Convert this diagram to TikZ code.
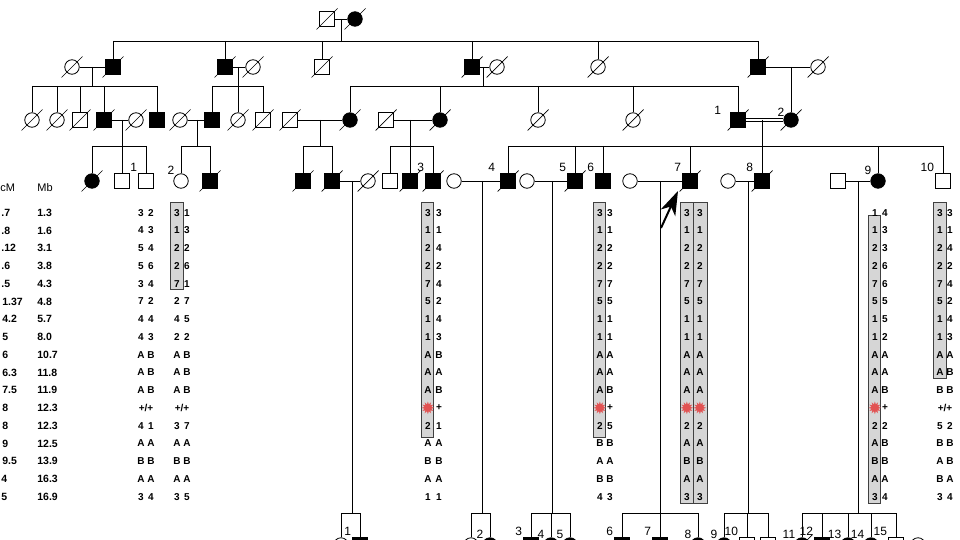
\documentclass[tikz,border=0pt]{standalone}
\usepackage{fontspec}
\setmainfont{Liberation Sans}
\newfontfamily\symfont{DejaVu Sans}
\usetikzlibrary{arrows.meta}
\definecolor{mkred}{RGB}{226,82,82}
\newcommand{\mk}{{\symfont\fontsize{17}{17}\selectfont\textcolor{mkred}{✹}}}

\begin{document}
\begin{tikzpicture}[x=1pt, y=-1pt, line width=0.8pt,
    male/.style={draw, fill=white, line width=0.8pt, minimum size=14.5pt, inner sep=0pt},
    female/.style={male, circle},
    aff/.style={fill=black},
    lbl/.style={font=\fontsize{12}{13}\selectfont, inner sep=1pt},
    allele/.style={font=\bfseries\fontsize{10}{11}\selectfont, inner sep=0pt},
    tab/.style={font=\bfseries\fontsize{10.5}{12}\selectfont, inner sep=0pt, anchor=west},
    hap/.style={draw=black!75, fill=black!16, line width=0.8pt},
    slash/.style={line width=0.7pt},
    proband/.style={-{Stealth[length=24pt, width=16pt, inset=7pt]}, line width=2pt},
]
    \clip (0,0) rectangle (960,540);

    % generation I
    \node[male] (i1) at (327,19) {};
    \node[female,aff] (i2) at (355,19) {};
    \draw (i1) -- (i2);
    \coordinate (m1) at (341,19);
    \coordinate (s1) at (341,41);
    \draw (m1) -- (s1);

    % generation II
    \node[female] (ii1) at (72,67) {};
    \node[male,aff] (ii2) at (113,67) {};
    \node[male,aff] (ii3) at (225,67) {};
    \node[female] (ii4) at (253,67) {};
    \node[male] (ii5) at (322,67) {};
    \node[male,aff] (ii6) at (472,67) {};
    \node[female] (ii7) at (497,67) {};
    \node[female] (ii8) at (598,67) {};
    \node[male,aff] (ii9) at (758,67) {};
    \node[female] (ii10) at (818,67) {};
    \draw (ii2 |- s1) -- (ii9 |- s1);
    \foreach \n in {ii2,ii3,ii5,ii6,ii8,ii9}
        \draw (\n |- s1) -- (\n);
    \foreach \a/\b in {ii1/ii2,ii3/ii4,ii6/ii7,ii9/ii10}
        \draw (\a) -- (\b);
    \coordinate (m21) at (92,67);  \coordinate (s21) at (92,86);
    \coordinate (m22) at (238,67); \coordinate (s22) at (238,86);
    \coordinate (m23) at (483,67); \coordinate (s23) at (483,86);
    \coordinate (m24) at (791,67);
    \draw (m21) -- (s21);
    \draw (m22) -- (s22);
    \draw (m23) -- (s23);

    % generation III
    \node[female] (iii1) at (32,120) {};
    \node[female] (iii2) at (57,120) {};
    \node[male] (iii3) at (80,120) {};
    \node[male,aff] (iii4) at (104,120) {};
    \node[female] (iii5) at (136,120) {};
    \node[male,aff] (iii6) at (157,120) {};
    \node[female] (iii7) at (180,120) {};
    \node[male,aff] (iii8) at (212,120) {};
    \node[female] (iii9) at (238,120) {};
    \node[male] (iii10) at (263,120) {};
    \node[male] (iii11) at (290,120) {};
    \node[female,aff] (iii12) at (350,120) {};
    \node[male] (iii13) at (386,120) {};
    \node[female,aff] (iii14) at (440,120) {};
    \node[female] (iii15) at (538,120) {};
    \node[female] (iii16) at (633,120) {};
    \node[male,aff,label={[lbl,xshift=-8pt,yshift=-4pt]above left:1}] (iii17) at (738,120) {};
    \node[female,aff,label={[lbl,yshift=-3pt]above left:2}] (iii18) at (791,120) {};
    \draw (iii1 |- s21) -- (iii6 |- s21);
    \foreach \n in {iii1,iii2,iii3,iii4,iii6}
        \draw (\n |- s21) -- (\n);
    \draw (iii8 |- s22) -- (iii10 |- s22);
    \foreach \n in {iii8,iii9,iii10}
        \draw (\n |- s22) -- (\n);
    \draw (iii12 |- s23) -- (iii17 |- s23);
    \foreach \n in {iii12,iii14,iii15,iii16,iii17}
        \draw (\n |- s23) -- (\n);
    \draw (m24) -- (iii18);
    \foreach \a/\b in {iii4/iii5,iii7/iii8,iii11/iii12,iii13/iii14}
        \draw (\a) -- (\b);
    \draw[double, double distance=2pt, line width=0.7pt] (iii17) -- (iii18);
    \coordinate (m31) at (122,120); \coordinate (s31) at (122,146);
    \coordinate (m32) at (197,120); \coordinate (s32) at (197,146);
    \coordinate (m33) at (320,120); \coordinate (s33) at (320,146);
    \coordinate (m34) at (410,120); \coordinate (s34) at (410,146);
    \coordinate (m35) at (762,120); \coordinate (s35) at (762,146);
    \foreach \n in {31,32,33,34,35}
        \draw (m\n) -- (s\n);

    % generation IV
    \node[female,aff] (iv1) at (92,181) {};
    \node[male] (iv2) at (122,181) {};
    \node[male,label={[lbl]above left:1}] (iv3) at (146,181) {};
    \node[female,label={[lbl]above left:2}] (iv4) at (181,181) {};
    \node[male,aff] (iv5) at (210,181) {};
    \node[male,aff] (iv6) at (303,181) {};
    \node[male,aff] (iv7) at (332,181) {};
    \node[female] (iv8) at (368,181) {};
    \node[male] (iv9) at (390,181) {};
    \node[male,aff] (iv10) at (410,181) {};
    \node[male,aff,label={[lbl]above left:3}] (iv11) at (433,181) {};
    \node[female] (iv12) at (454,181) {};
    \node[male,aff,label={[lbl,xshift=-4pt]above left:4}] (iv13) at (508,181) {};
    \node[female] (iv14) at (527,181) {};
    \node[male,aff,label={[lbl]above left:5}] (iv15) at (575,181) {};
    \node[male,aff,label={[lbl]above left:6}] (iv16) at (603,181) {};
    \node[female] (iv17) at (630,181) {};
    \node[male,aff,label={[lbl]above left:7}] (iv18) at (690,181) {};
    \node[female] (iv19) at (728,181) {};
    \node[male,aff,label={[lbl]above left:8}] (iv20) at (762,181) {};
    \node[male] (iv21) at (838,181) {};
    \node[female,aff,label={[lbl]above left:9}] (iv22) at (878,181) {};
    \node[male,label={[lbl]above left:10}] (iv23) at (943,181) {};
    \draw (iv1 |- s31) -- (iv3 |- s31);
    \foreach \n in {iv1,iv2,iv3}
        \draw (\n |- s31) -- (\n);
    \draw (iv4 |- s32) -- (iv5 |- s32);
    \foreach \n in {iv4,iv5}
        \draw (\n |- s32) -- (\n);
    \draw (iv6 |- s33) -- (iv7 |- s33);
    \foreach \n in {iv6,iv7}
        \draw (\n |- s33) -- (\n);
    \draw (iv9 |- s34) -- (iv11 |- s34);
    \foreach \n in {iv9,iv10,iv11}
        \draw (\n |- s34) -- (\n);
    \draw (iv13 |- s35) -- (iv23 |- s35);
    \foreach \n in {iv13,iv15,iv16,iv18,iv20,iv22,iv23}
        \draw (\n |- s35) -- (\n);
    \foreach \a/\b in {iv7/iv8,iv12/iv13,iv14/iv15,iv17/iv18,iv19/iv20,iv21/iv22}
        \draw (\a) -- (\b);
    \coordinate (m41) at (352,181); \coordinate (s41) at (352,513);
    \coordinate (m42) at (482,181); \coordinate (s42) at (482,513);
    \coordinate (m43) at (552,181); \coordinate (s43) at (552,513);
    \coordinate (m44) at (660,181); \coordinate (s44) at (660,513);
    \coordinate (m45) at (748,181); \coordinate (s45) at (748,513);
    \coordinate (m46) at (858,181); \coordinate (s46) at (858,513);
    \foreach \n in {41,42,43,44,45,46}
        \draw (m\n) -- (s\n);

    % generation V (cut at the bottom edge)
    \node[female] (v1) at (341,545) {};
    \node[male,aff,label={[lbl]above left:1}] (v2) at (360,545) {};
    \node[female] (v3) at (471,545) {};
    \node[female,aff,label={[lbl]above left:2}] (v4) at (490,545) {};
    \node[male,aff,label={[lbl]above left:3}] (v5) at (531,545) {};
    \node[female,aff,label={[lbl]above left:4}] (v6) at (551,545) {};
    \node[female,aff,label={[lbl]above left:5}] (v7) at (570,545) {};
    \node[male,aff,label={[lbl]above left:6}] (v8) at (622,545) {};
    \node[male,aff,label={[lbl]above left:7}] (v9) at (660,545) {};
    \node[female,aff,label={[lbl]above left:8}] (v10) at (698,545) {};
    \node[female,aff,label={[lbl]above left:9}] (v11) at (724,545) {};
    \node[male,label={[lbl]above left:10}] (v12) at (747,545) {};
    \node[male] (v13) at (768,545) {};
    \node[female,aff,label={[lbl]above left:11}] (v14) at (802,545) {};
    \node[male,aff,label={[lbl]above left:12}] (v15) at (822,545) {};
    \node[female,aff,label={[lbl]above left:13}] (v16) at (848,545) {};
    \node[female,aff,label={[lbl]above left:14}] (v17) at (871,545) {};
    \node[male,label={[lbl]above left:15}] (v18) at (896,545) {};
    \node[female] (v19) at (918,545) {};
    \draw (v1 |- s41) -- (v2 |- s41);
    \draw (v3 |- s42) -- (v4 |- s42);
    \draw (v5 |- s43) -- (v7 |- s43);
    \draw (v8 |- s44) -- (v10 |- s44);
    \draw (v11 |- s45) -- (v13 |- s45);
    \draw (v14 |- s46) -- (v18 |- s46);
    \foreach \n/\s in {v1/41,v2/41,v3/42,v4/42,v5/43,v6/43,v7/43,v8/44,v9/44,v10/44,
                       v11/45,v12/45,v13/45,v14/46,v15/46,v16/46,v17/46,v18/46}
        \draw (\n |- s\s) -- (\n);

    % deceased
    \foreach \n in {i1,i2,ii1,ii2,ii3,ii4,ii5,ii6,ii7,ii8,ii9,ii10,
                    iii1,iii2,iii3,iii4,iii5,iii7,iii9,iii10,iii11,iii12,iii13,iii14,
                    iii15,iii16,iii17,iii18,iv1,iv5,iv6,iv7,iv8,iv10,iv11,iv13,iv15,
                    iv18,iv20,v14}
        \draw[slash] ([shift={(-10.5,10.5)}]\n.center) -- ([shift={(10.5,-10.5)}]\n.center);

    % proband
    \coordinate (pbt) at (661,228);
    \coordinate (pbh) at (678,191);
    \draw[proband] (pbt) -- (pbh);

    % map positions
    \node[tab, font=\fontsize{11}{12}\selectfont] (cmh) at (0,188) {cM};
    \node[tab, font=\fontsize{11}{12}\selectfont] (mbh) at (37,188) {Mb};
    \foreach \c/\i in {.7/1,.8/2,.12/3,.6/4,.5/5,4/16,5/17}
        \node[tab] (cm\i) at (1,{212.7+(\i-1)*17.75}) {\c};
    \foreach \c/\i in {1.37/6,4.2/7,5/8,6/9,6.3/10,7.5/11,8/12,8/13,9/14,9.5/15}
        \node[tab] (cm\i) at (2,{212.7+(\i-1)*17.75}) {\c};
    \foreach \m [count=\i] in {1.3,1.6,3.1,3.8,4.3,4.8,5.7,8.0,10.7,11.8,11.9,12.3,12.3,12.5,13.9,16.3,16.9}
        \node[tab] (mb\i) at (37,{212.7+(\i-1)*17.75}) {\m};

    % haplotype bars
    \draw[hap] (170,202) rectangle (183,289);
    \draw[hap] (421,202) rectangle (433,437);
    \draw[hap] (593,202) rectangle (605,437);
    \draw[hap] (680,202) rectangle (693,503);
    \draw[hap] (693,202) rectangle (707,503);
    \draw[hap] (868,215) rectangle (880,503);
    \draw[hap] (933,202) rectangle (946,378);

    % alleles
    \foreach \a/\b [count=\i] in {3/2,4/3,5/4,5/6,3/4,7/2,4/4,4/3,A/B,A/B,A/B,{}/{},4/1,A/A,B/B,A/A,3/4} {
        \node[allele] (al\i) at (141,{212.7+(\i-1)*17.75}) {\a};
        \node[allele] (ar\i) at (151,{212.7+(\i-1)*17.75}) {\b};
    }
    \node[allele] (apl) at (146,407.9) {+/+};
    \foreach \a/\b [count=\i] in {3/1,1/3,2/2,2/6,7/1,2/7,4/5,2/2,A/B,A/B,A/B,{}/{},3/7,A/A,B/B,A/A,3/5} {
        \node[allele] (bl\i) at (177,{212.7+(\i-1)*17.75}) {\a};
        \node[allele] (br\i) at (187,{212.7+(\i-1)*17.75}) {\b};
    }
    \node[allele] (bpl) at (182,407.9) {+/+};
    \foreach \a/\b [count=\i] in {3/3,1/1,2/4,2/2,7/4,5/2,1/4,1/3,A/B,A/A,A/B,\mk/+,2/1,A/A,B/B,A/A,1/1} {
        \node[allele] (cl\i) at (428,{212.7+(\i-1)*17.75}) {\a};
        \node[allele] (cr\i) at (439,{212.7+(\i-1)*17.75}) {\b};
    }
    \foreach \a/\b [count=\i] in {3/3,1/1,2/2,2/2,7/7,5/5,1/1,1/1,A/A,A/A,A/B,\mk/+,2/5,B/B,A/A,B/B,4/3} {
        \node[allele] (dl\i) at (600,{212.7+(\i-1)*17.75}) {\a};
        \node[allele] (dr\i) at (610,{212.7+(\i-1)*17.75}) {\b};
    }
    \foreach \a/\b [count=\i] in {3/3,1/1,2/2,2/2,7/7,5/5,1/1,1/1,A/A,A/A,A/A,\mk/\mk,2/2,A/A,B/B,A/A,3/3} {
        \node[allele] (el\i) at (687,{212.7+(\i-1)*17.75}) {\a};
        \node[allele] (er\i) at (700,{212.7+(\i-1)*17.75}) {\b};
    }
    \foreach \a/\b [count=\i] in {1/4,1/3,2/3,2/6,7/6,5/5,1/5,1/2,A/A,A/A,A/B,\mk/+,2/2,A/B,B/B,A/A,3/4} {
        \node[allele] (fl\i) at (875,{212.7+(\i-1)*17.75}) {\a};
        \node[allele] (fr\i) at (885,{212.7+(\i-1)*17.75}) {\b};
    }
    \foreach \a/\b [count=\i] in {3/3,1/1,2/4,2/2,7/4,5/2,1/4,1/3,A/A,A/B,B/B,{}/{},5/2,B/B,A/B,B/A,3/4} {
        \node[allele] (gl\i) at (940,{212.7+(\i-1)*17.75}) {\a};
        \node[allele] (gr\i) at (950,{212.7+(\i-1)*17.75}) {\b};
    }
    \node[allele] (gpl) at (945,407.9) {+/+};
\end{tikzpicture}
\end{document}
